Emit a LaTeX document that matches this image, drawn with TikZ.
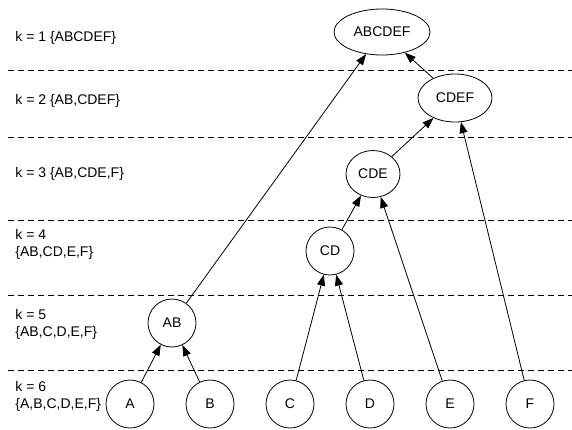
\documentclass[tikz,border=0pt]{standalone}
\usepackage{fontspec}
\setmainfont{Liberation Sans}
\usetikzlibrary{shapes.geometric,arrows.meta}

\begin{document}
\begin{tikzpicture}[x=1pt,y=-1pt,line width=0.8pt,
    every node/.style={font=\fontsize{14}{17}\selectfont},
    leaf/.style={draw,circle,minimum size=48pt,inner sep=0pt},
    blob/.style={draw,ellipse,inner sep=0pt},
    level/.style={anchor=west,align=left,inner sep=0pt},
    merge/.style={-{Triangle[length=11pt,width=8pt]}},
    cut/.style={dash pattern=on 6pt off 4pt}]
    \useasboundingbox (0,0) rectangle (572,429);
    \draw[cut] (8,70) -- (572,70);
    \draw[cut] (8,137) -- (572,137);
    \draw[cut] (8,220) -- (572,220);
    \draw[cut] (8,295) -- (572,295);
    \draw[cut] (8,370) -- (572,370);
    \node[level] (kone) at (15,38) {k = 1 \{ABCDEF\}};
    \node[level] (ktwo) at (15,101) {k = 2 \{AB,CDEF\}};
    \node[level] (kthree) at (15,174) {k = 3 \{AB,CDE,F\}};
    \node[level] (kfour) at (15,244) {k = 4\\\{AB,CD,E,F\}};
    \node[level] (kfive) at (15,324) {k = 5\\\{AB,C,D,E,F\}};
    \node[level] (ksix) at (15,396) {k = 6\\\{A,B,C,D,E,F\}};
    \node[blob,minimum width=96pt,minimum height=46pt] (ABCDEF) at (382,32) {ABCDEF};
    \node[blob,minimum width=74pt,minimum height=48pt] (CDEF) at (455,98) {CDEF};
    \node[blob,minimum width=54pt,minimum height=47pt] (CDE) at (373,174) {CDE};
    \node[leaf] (CD) at (330,251) {CD};
    \node[leaf] (AB) at (172,323) {AB};
    \node[leaf] (A) at (130,404) {A};
    \node[leaf] (B) at (210,404) {B};
    \node[leaf] (C) at (290,404) {C};
    \node[leaf] (D) at (370,404) {D};
    \node[leaf] (E) at (450,404) {E};
    \node[leaf] (F) at (530,404) {F};
    \draw[merge] (A) -- (AB);
    \draw[merge] (B) -- (AB);
    \draw[merge] (C) -- (CD);
    \draw[merge] (D) -- (CD);
    \draw[merge] (CD) -- (CDE);
    \draw[merge] (E) -- (CDE);
    \draw[merge] (CDE) -- (CDEF);
    \draw[merge] (F) -- (CDEF);
    \draw[merge] (AB) -- (ABCDEF);
    \draw[merge] (CDEF) -- (ABCDEF);
\end{tikzpicture}
\end{document}
